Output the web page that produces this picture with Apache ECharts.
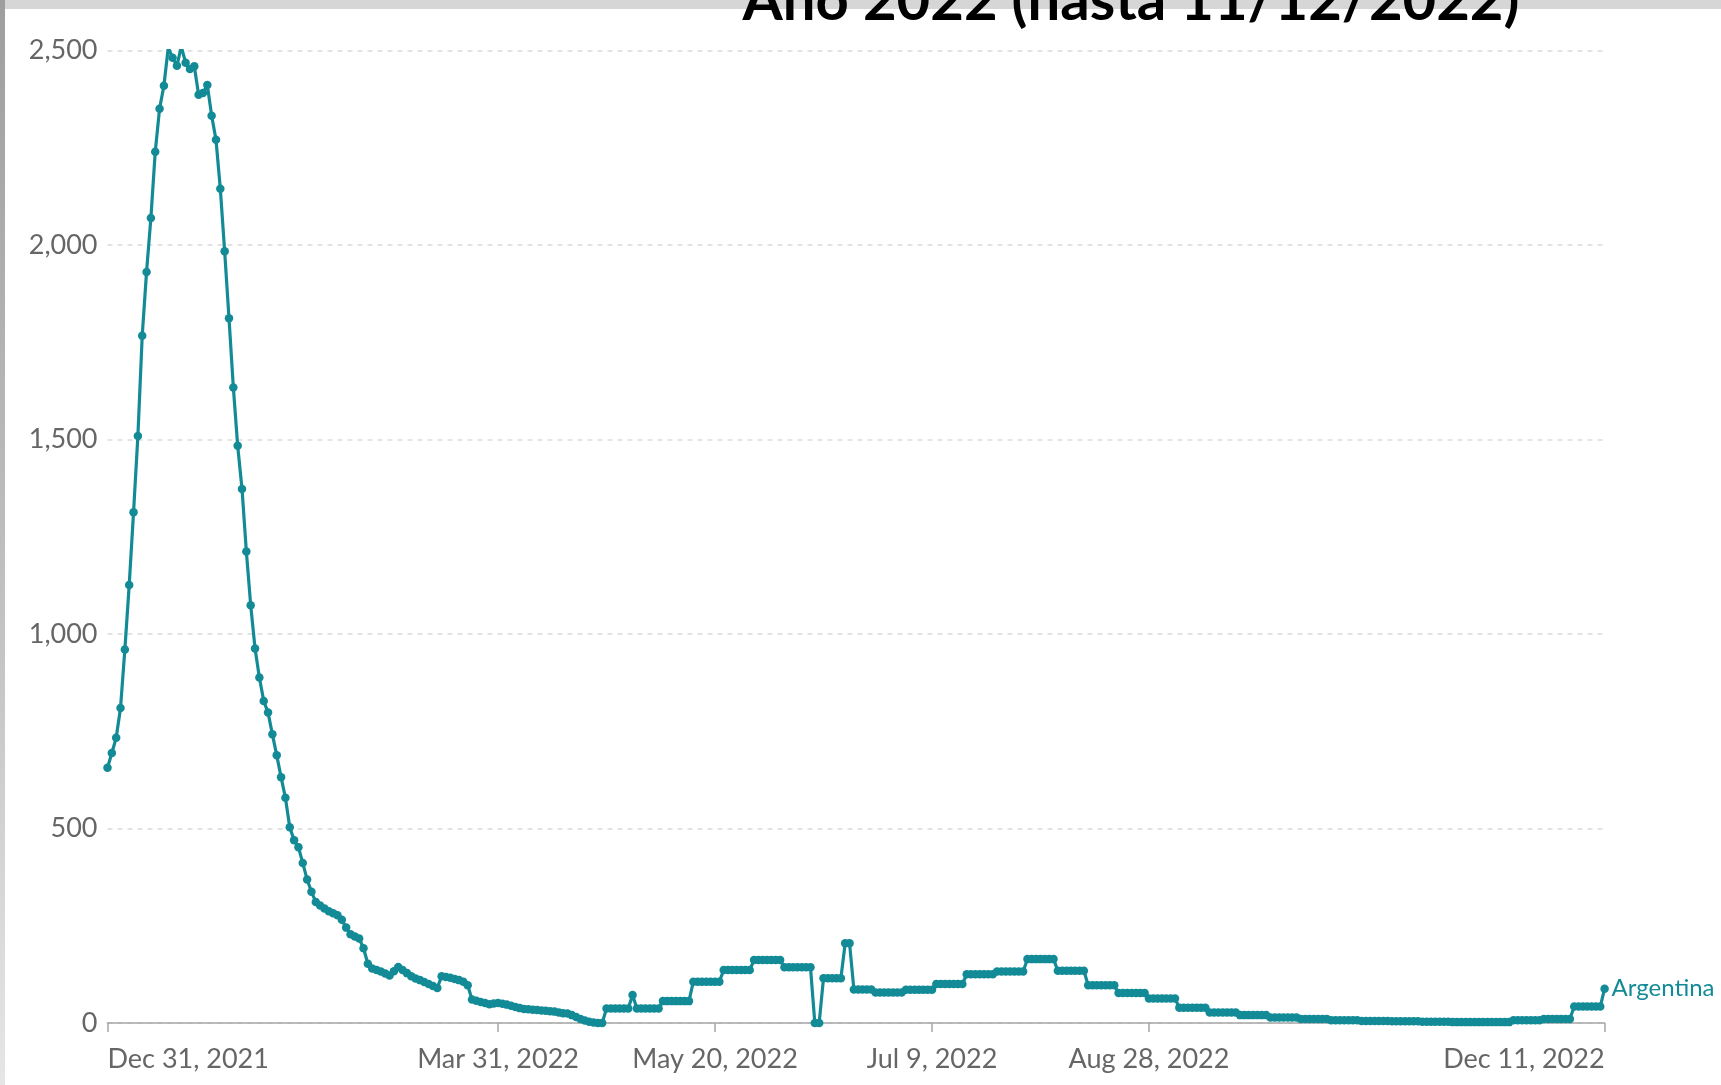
<!DOCTYPE html>
<html>
<head>
    <meta charset="UTF-8">
    <title>Año 2022 (hasta 11/12/2022)</title>
    <script src="https://cdn.jsdelivr.net/npm/echarts@6/dist/echarts.min.js"></script>
    <style type="text/css">
        HTML,BODY {
            height: 100%;
            margin: 0;
            background: #fff;
        }
    </style>
</head>
<body>
<div id="main" style="width: 1721px;height:1085px;"></div>
<script>
    // primer dia de la serie y cantidad de dias
    var startDate = '2021-12-31';
    var dayCount = 346;

    // etiquetas del eje x (fecha -> texto)
    var tickDates = ['2021-12-31', '2022-03-31', '2022-05-20', '2022-07-09', '2022-08-28', '2022-12-11'];
    var tickLabels = ['Dec 31, 2021', 'Mar 31, 2022', 'May 20, 2022', 'Jul 9, 2022', 'Aug 28, 2022', 'Dec 11, 2022'];

    // eje y
    var yTicks = [0, 500, 1000, 1500, 2000, 2500];

    // casos diarios (uno por dia, desde 31/12/2021)
    var argentina = [
        656, 694, 733, 810, 960, 1126, 1313, 1509, 1767, 1931, 2070, 2240, 2351, 2410,
        2508, 2482, 2461, 2511, 2469, 2453, 2460, 2387, 2391, 2412, 2333, 2271, 2145, 1984,
        1812, 1634, 1484, 1373, 1212, 1074, 963, 888, 828, 798, 742, 688, 632, 579,
        503, 470, 452, 411, 369, 337, 311, 302, 294, 287, 282, 277, 265, 245,
        228, 222, 217, 192, 152, 140, 136, 132, 127, 122, 133, 144, 136, 128,
        120, 114, 110, 105, 100, 95, 90, 120, 118, 116, 113, 110, 106, 97,
        60, 57, 54, 51, 48, 50, 51, 49, 47, 44, 41, 38, 36, 35,
        34, 33, 32, 31, 30, 29, 27, 25, 24, 20, 15, 10, 6, 3,
        1, 0, 0,
        37, 37, 37, 37, 37, 37, 72,
        37, 37, 37, 37, 37, 37,
        56, 56, 56, 56, 56, 56, 56,
        106, 106, 106, 106, 106, 106, 106,
        136, 136, 136, 136, 136, 136, 136,
        162, 162, 162, 162, 162, 162, 162,
        143, 143, 143, 143, 143, 143, 143,
        0, 0, 115, 115, 115, 115, 115,
        205, 205, 86, 86, 86, 86, 86,
        78, 78, 78, 78, 78, 78, 78,
        85, 85, 85, 85, 85, 85, 85,
        100, 100, 100, 100, 100, 100, 100,
        125, 125, 125, 125, 125, 125, 125,
        132, 132, 132, 132, 132, 132, 132,
        164, 164, 164, 164, 164, 164, 164,
        134, 134, 134, 134, 134, 134, 134,
        97, 97, 97, 97, 97, 97, 97,
        77, 77, 77, 77, 77, 77, 77,
        63, 63, 63, 63, 63, 63, 63,
        39, 39, 39, 39, 39, 39, 39,
        27, 27, 27, 27, 27, 27, 27,
        20, 20, 20, 20, 20, 20, 20,
        14, 14, 14, 14, 14, 14, 14,
        10, 10, 10, 10, 10, 10, 10,
        7, 7, 7, 7, 7, 7, 7,
        5, 5, 5, 5, 5, 5, 5,
        4, 4, 4, 4, 4, 4, 4,
        3, 3, 3, 3, 3, 3, 3,
        2, 2, 2, 2, 2, 2, 2,
        2, 2, 2, 2, 2, 2, 2,
        7, 7, 7, 7, 7, 7, 7,
        10, 10, 10, 10, 10, 10, 10,
        42, 42, 42, 42, 42, 42, 42,
        88
    ];

    // fechas de la categoria
    var dates = [];
    var d0 = new Date(startDate + 'T00:00:00Z');
    for (var i = 0; i < dayCount; i++) {
        var d = new Date(d0.getTime() + i * 86400000);
        dates.push(d.toISOString().slice(0, 10));
    }

    var lineColor = '#128b97';
    var myChart = echarts.init(document.getElementById('main'));

    var option = {
        backgroundColor: '#fff',
        animation: false,
        grid: {
            left: 107.5,
            right: 116.4,
            top: 50.7,
            bottom: 62.1
        },
        graphic: [
            {
                type: 'rect',
                shape: {x: 0, y: 0, width: 1721, height: 9},
                style: {fill: '#d6d6d6'},
                z: 0
            },
            {
                type: 'rect',
                shape: {x: 0, y: 0, width: 5, height: 1085},
                style: {
                    fill: new echarts.graphic.LinearGradient(0, 0, 0, 1, [
                        {offset: 0, color: '#9e9e9e'},
                        {offset: 0.6, color: '#c4c4c4'},
                        {offset: 1, color: '#e6e6e6'}
                    ])
                },
                z: 0
            },
            {
                type: 'text',
                x: 1131,
                y: 1,
                style: {
                    text: 'Año 2022 (hasta 11/12/2022)',
                    fill: '#000',
                    font: 'bold 58px Lato',
                    textAlign: 'center',
                    textVerticalAlign: 'middle'
                },
                z: 10
            }
        ],
        xAxis: {
            type: 'category',
            data: dates,
            boundaryGap: false,
            axisLine: {lineStyle: {color: '#a6a6a6', width: 1.5}},
            axisTick: {
                length: 9,
                lineStyle: {color: '#a6a6a6', width: 1.5},
                interval: function (index, value) {
                    return tickDates.indexOf(value) >= 0;
                }
            },
            axisLabel: {
                interval: function (index, value) {
                    return tickDates.indexOf(value) >= 0;
                },
                formatter: function (value) {
                    return tickLabels[tickDates.indexOf(value)];
                },
                alignMinLabel: 'left',
                alignMaxLabel: 'right',
                color: '#666',
                fontFamily: 'Lato',
                fontSize: 27,
                margin: 23
            },
            splitLine: {show: false}
        },
        yAxis: {
            type: 'value',
            min: yTicks[0],
            max: yTicks[yTicks.length - 1],
            interval: 500,
            axisLine: {show: false},
            axisTick: {show: false},
            axisLabel: {
                color: '#666',
                fontFamily: 'Lato',
                fontSize: 27,
                margin: 10,
                formatter: function (v) {
                    return v.toLocaleString('en-US');
                }
            },
            splitLine: {
                lineStyle: {color: '#dadada', type: [5, 5], width: 1.5}
            }
        },
        series: [{
            name: 'Argentina',
            type: 'line',
            data: argentina,
            showAllSymbol: true,
            symbol: 'circle',
            symbolSize: 8.5,
            itemStyle: {color: lineColor},
            lineStyle: {color: lineColor, width: 3.2},
            endLabel: {
                show: true,
                formatter: 'Argentina',
                color: lineColor,
                fontFamily: 'Lato',
                fontSize: 24,
                distance: 7
            },
            z: 5
        }]
    };

    myChart.setOption(option);
</script>
</body>
</html>
